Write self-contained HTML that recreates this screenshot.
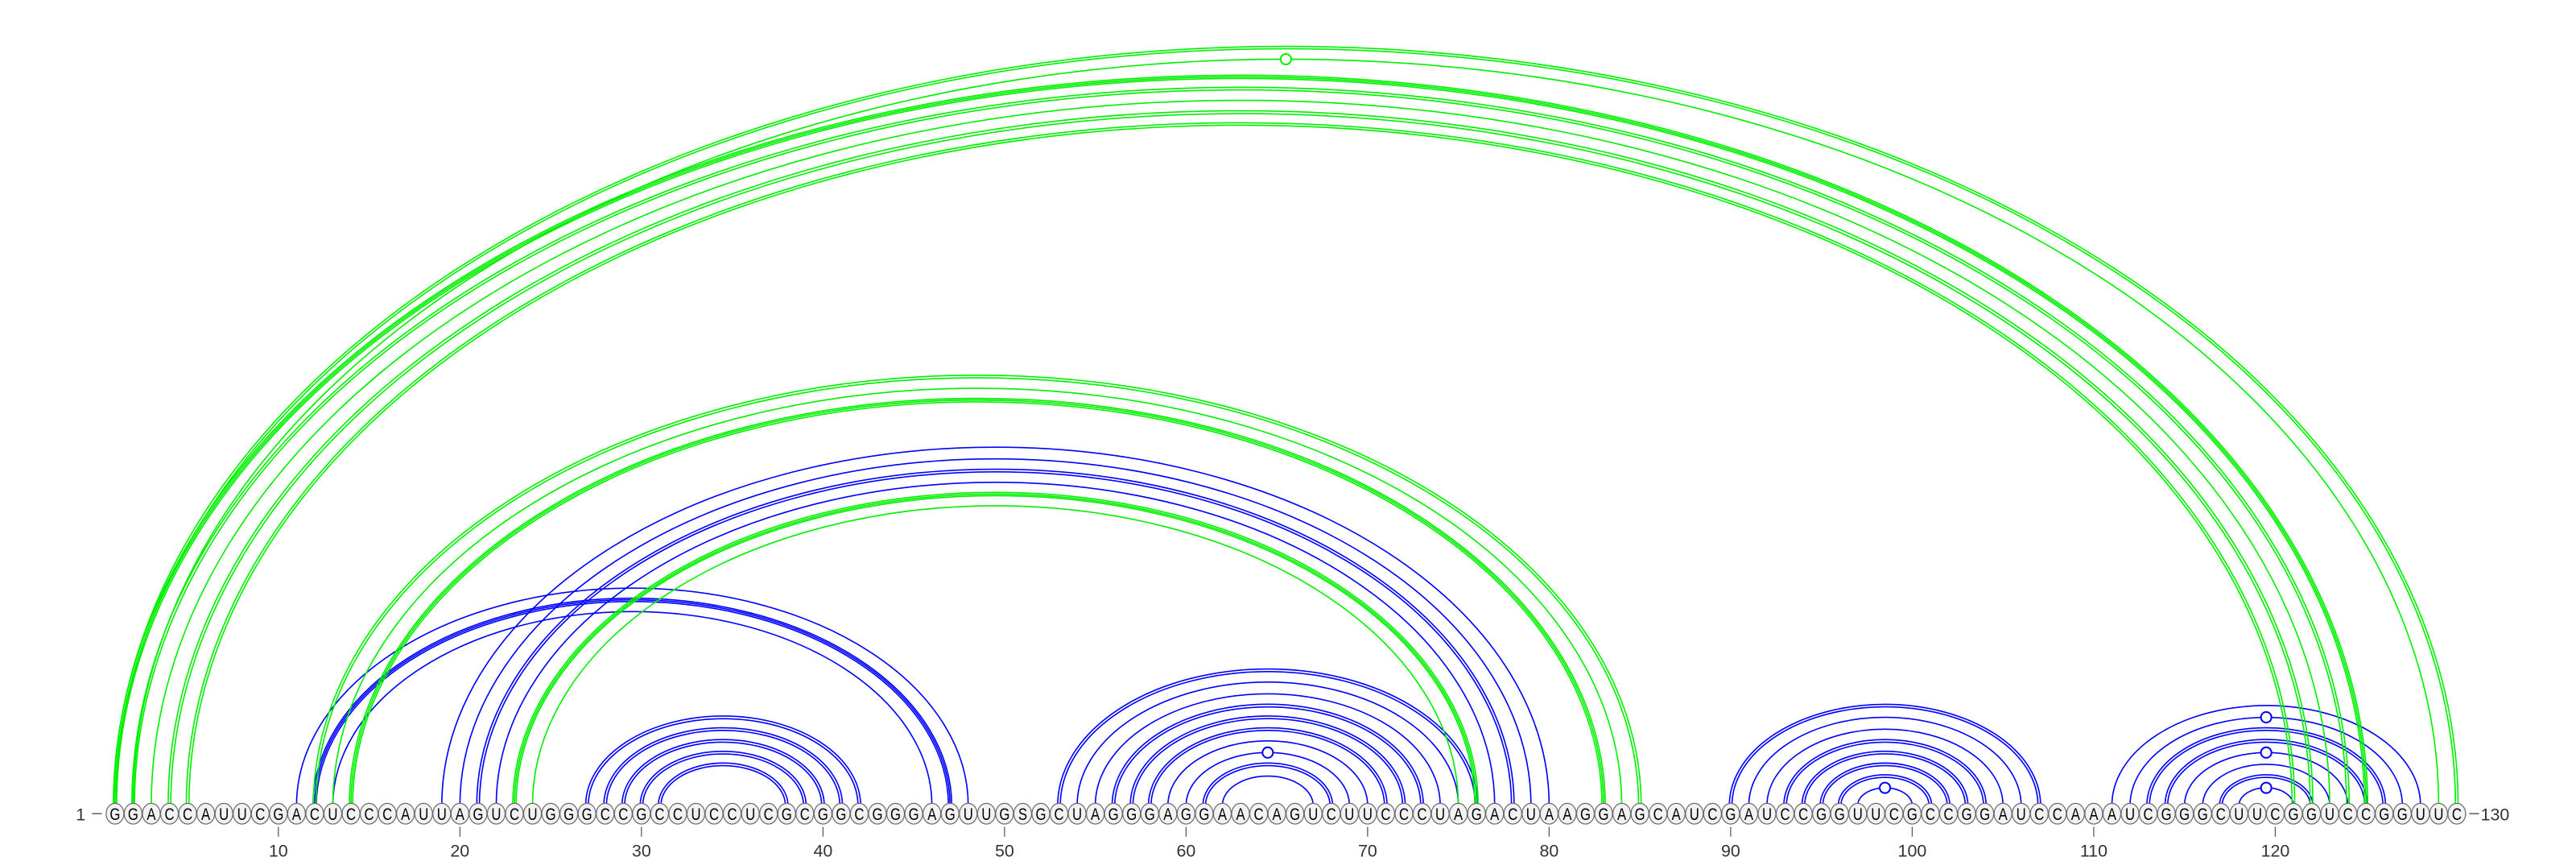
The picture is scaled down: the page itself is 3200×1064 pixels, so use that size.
<!DOCTYPE html>
<html><head><meta charset="utf-8">
<style>
html,body{margin:0;padding:0;background:#fff;}
svg{display:block;}
text{font-family:"Liberation Sans","DejaVu Sans",sans-serif;}
</style></head>
<body>
<svg id="chart" width="3200" height="1064" viewBox="0 0 1568 521.36" xmlns="http://www.w3.org/2000/svg">
<g id="arcs"></g>
<g id="bases"></g>
<g id="ticks"></g>
</svg>
<script>
const sequence = "GGACCAUUCGACUCCCAUUAGUCUGGGCCGCCUCCUCGCGGCGGGAGUUGSGCUAGGGAGGAACAGUCUUCCCUAGACUAAGGAGCAUCGAUCCGGUUCGCCGGAUCCAAAUCGGGCUUCGGUCCGGUUC";
const tickValues = [10,20,30,40,50,60,70,80,90,100,110,120];
// pairs: [i, j, line count, marker]
const greenPairs = [[1,130,2,0],[2,129,1,1],[1,125,3,0],[2,124,2,0],[3,123,1,0],[4,122,2,0],[5,121,2,0],
  [12,85,2,0],[13,84,1,0],[14,83,3,0],[23,76,3,0],[24,75,1,0]];
const bluePairs = [[11,48,1,0],[12,47,3,0],[13,46,1,0],
  [19,80,1,0],[20,79,1,0],[21,78,2,0],[22,77,1,0],
  [27,42,2,0],[28,41,2,0],[29,40,2,0],[30,39,2,0],[31,38,2,0],
  [53,76,2,0],[54,75,1,0],[55,74,1,0],[56,73,2,0],[57,72,2,0],[58,71,2,0],[59,70,1,0],[60,69,1,1],[61,68,2,0],[62,67,1,0],
  [90,107,2,0],[91,106,1,0],[92,105,1,0],[93,104,2,0],[94,103,2,0],[95,102,2,0],[96,101,2,0],[97,100,1,1],
  [111,128,1,0],[112,127,1,1],[113,126,2,0],[114,125,2,0],[115,124,1,1],[116,123,1,0],[117,122,2,0],[118,121,1,1]];

const NS="http://www.w3.org/2000/svg";
const x0=70, dx=11.05, baseY=495, arcY=490, ratio=0.647;
function xPos(i){return x0+(i-1)*dx;}
function mk(tag,attrs,parent){const e=document.createElementNS(NS,tag);for(const k in attrs)e.setAttribute(k,attrs[k]);parent.appendChild(e);return e;}
const arcsG=document.getElementById('arcs');
function drawPairs(pairs,color,name){
  pairs.forEach(p=>{
    const a=xPos(p[0]), b=xPos(p[1]);
    const cx=(a+b)/2, rx=(b-a)/2;
    const n=p[2], sep=(n===3?1.0:1.6);
    for(let k=0;k<n;k++){
      const off=(k-(n-1)/2)*sep;
      const r=rx+off, ry=rx*ratio+off;
      const path=mk('path',{d:`M${cx-r},${arcY} A${r},${ry} 0 0 1 ${cx+r},${arcY}`,fill:'none',stroke:color,'stroke-width':0.8},arcsG);
      
      
    }
    if(p[3]){
      const c=mk('circle',{cx:cx,cy:arcY-rx*ratio,r:3.2,fill:'#fff',stroke:color,'stroke-width':1},arcsG);
      
      
    }
  });
}
drawPairs(bluePairs,'#0000ff','blue');
drawPairs(greenPairs,'#00f000','green');

const basesG=document.getElementById('bases');
for(let i=1;i<=sequence.length;i++){
  const x=xPos(i);
  const c=mk('ellipse',{cx:x,cy:baseY,rx:5.4,ry:6.3,fill:'#f2f2f2',stroke:'#6a6a6a','stroke-width':0.6},basesG);
  
  
  const t=mk('text',{x:0,y:0,'text-anchor':'middle','font-size':10.5,fill:'#000',transform:`translate(${x},${baseY+3.8}) scale(0.78,1)`},basesG);
  t.textContent=sequence[i-1];
  
  
}
const ticksG=document.getElementById('ticks');
const s=mk('text',{x:52,y:499,'text-anchor':'end','font-size':10.5,fill:'#333'},ticksG);
s.textContent='1';


mk('line',{x1:56,x2:62,y1:495,y2:495,stroke:'#555','stroke-width':0.7},ticksG);
mk('line',{x1:1503,x2:1509,y1:495,y2:495,stroke:'#555','stroke-width':0.7},ticksG);
const e=mk('text',{x:1510,y:499,'text-anchor':'start','font-size':10.5,fill:'#333'},ticksG);
e.textContent='130';


tickValues.forEach(v=>{
  const x=xPos(v);
  const l=mk('line',{x1:x,x2:x,y1:503,y2:509,stroke:'#555','stroke-width':0.6},ticksG);
  
  
  const t=mk('text',{x:x,y:521,'text-anchor':'middle','font-size':10.5,fill:'#333'},ticksG);
  t.textContent=v;
  
  
});
</script>
</body></html>
